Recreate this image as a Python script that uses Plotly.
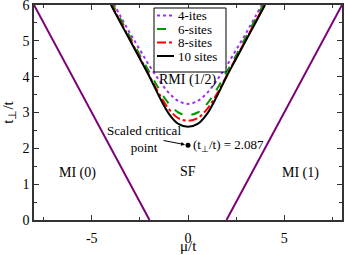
import plotly.graph_objects as go

# ---- data ----
mu_grid = [-4.0, -3.5, -3.0, -2.5, -2.0, -1.5, -1.0, -0.5, 0.0, 0.5, 1.0, 1.5, 2.0, 2.5, 3.0, 3.5, 4.0]
t_4sites = [6.18, 5.68, 5.2, 4.75, 4.3, 3.9, 3.55, 3.32, 3.24, 3.32, 3.55, 3.9, 4.3, 4.75, 5.2, 5.68, 6.18]
t_6sites = [6.1, 5.6, 5.1, 4.6, 4.12, 3.65, 3.25, 3.0, 2.93, 3.0, 3.25, 3.65, 4.12, 4.6, 5.1, 5.6, 6.1]
t_8sites = [6.03, 5.53, 5.03, 4.53, 4.02, 3.52, 3.1, 2.84, 2.77, 2.84, 3.1, 3.52, 4.02, 4.53, 5.03, 5.53, 6.03]
t_10sites = [6.0, 5.5, 5.0, 4.5, 4.0, 3.45, 2.97, 2.68, 2.6, 2.68, 2.97, 3.45, 4.0, 4.5, 5.0, 5.5, 6.0]

mi0_mu = [-8.0, -2.0]
mi0_t = [6.0, 0.0]
mi1_mu = [2.0, 8.0]
mi1_t = [0.0, 6.0]

crit_mu = [0.0]
crit_t = [2.087]

series_names = ["4-ites", "6-sites", "8-sites", "10 sites"]
series_colors = ["#a030f0", "#009a00", "#ff0000", "#000000"]
series_dash = ["dot", "dash", "dashdot", "solid"]
series_values = [t_4sites, t_6sites, t_8sites, t_10sites]

x_tickvals = [-5, 0, 5]
x_ticktext = ["-5", "0", "5"]
y_tickvals = [0, 1, 2, 3, 4, 5, 6]

FONT = "Liberation Serif"
fig = go.Figure()

fig.add_trace(go.Scatter(x=mi0_mu, y=mi0_t, mode="lines",
                         line=dict(color="#7a0078", width=2), showlegend=False))
fig.add_trace(go.Scatter(x=mi1_mu, y=mi1_t, mode="lines",
                         line=dict(color="#7a0078", width=2), showlegend=False))

for name, vals, col, dash in zip(series_names, series_values, series_colors, series_dash):
    fig.add_trace(go.Scatter(x=mu_grid, y=vals, mode="lines", name=name,
                             line=dict(color=col, width=2, dash=dash, shape="spline"),
                             showlegend=False))

fig.add_trace(go.Scatter(x=crit_mu, y=crit_t, mode="markers",
                         marker=dict(color="black", size=5), showlegend=False))

# ---- manual legend (plot area: x 34..342 px, y 5..220 px) ----
L, R, T, B = 34, 342, 5, 220
def px(x):
    return (x - L) / (R - L)
def py(y):
    return 1 - (y - T) / (B - T)

shapes = [dict(type="rect", xref="paper", yref="paper",
               x0=px(154), x1=px(226), y0=py(72), y1=py(8),
               line=dict(color="black", width=1), fillcolor="white", layer="above")]
annotations = []
rows = [15.5, 29, 42.5, 56]
for name, col, dash, yy in zip(series_names, series_colors, series_dash, rows):
    shapes.append(dict(type="line", xref="paper", yref="paper",
                       x0=px(157), x1=px(174), y0=py(yy), y1=py(yy),
                       line=dict(color=col, width=2, dash=dash), layer="above"))
    annotations.append(dict(xref="paper", yref="paper", x=px(177), y=py(yy),
                            text=name, showarrow=False, xanchor="left", yanchor="middle",
                            borderpad=0,
                            font=dict(family=FONT, size=13, color="black")))

annotations += [
    dict(x=0, y=3.9, text="RMI (1/2)", showarrow=False,
         font=dict(family=FONT, size=14, color="black")),
    dict(x=-2.28, y=2.25, text="Scaled critical<br>point", showarrow=False, align="center",
         font=dict(family=FONT, size=13, color="black")),
    dict(x=0.16, y=2.09, text="(t<sub>⊥</sub>/t) = 2.087", showarrow=False, xanchor="left",
         font=dict(family=FONT, size=13, color="black")),
    dict(x=0, y=2.087, ax=-26, ay=-5, text="", showarrow=True, arrowhead=2,
         arrowsize=0.8, arrowwidth=1, arrowcolor="black", standoff=3),
    dict(x=0, y=1.34, text="SF", showarrow=False,
         font=dict(family=FONT, size=14, color="black")),
    dict(x=-5.75, y=1.31, text="MI (0)", showarrow=False,
         font=dict(family=FONT, size=14, color="black")),
    dict(x=5.85, y=1.31, text="MI (1)", showarrow=False,
         font=dict(family=FONT, size=14, color="black")),
    # x-axis title
    dict(xref="x", yref="paper", x=0, y=py(246), text="μ/t", showarrow=False,
         yanchor="middle", font=dict(family=FONT, size=15, color="black")),
]

axis_common = dict(showline=True, linecolor="#333333", linewidth=1.5, mirror="allticks",
                   ticks="inside", ticklen=5, tickwidth=1, tickcolor="#333333",
                   showgrid=False, zeroline=False, automargin=False,
                   ticklabeloverflow="allow",
                   tickfont=dict(family=FONT, size=14, color="black"))

fig.update_layout(
    width=345, height=255,
    margin=dict(l=34, r=3, t=5, b=35),
    plot_bgcolor="white", paper_bgcolor="white",
    shapes=shapes, annotations=annotations,
    xaxis=dict(range=[-8, 8], tickvals=x_tickvals, ticktext=x_ticktext,
               ticklabelstandoff=4,
               minor=dict(dtick=2.5, tick0=0, ticks="inside", ticklen=3, tickcolor="#333333"),
               **axis_common),
    yaxis=dict(range=[0, 6], tickvals=y_tickvals,
               minor=dict(dtick=0.5, tick0=0, ticks="inside", ticklen=3, tickcolor="#333333"),
               title=dict(text="t<sub>⊥</sub>/t", font=dict(family=FONT, size=15, color="black"), standoff=6),
               **axis_common),
)

fig.write_html("out.html", config={"displayModeBar": False},
               post_script="document.body.style.margin='0';document.body.style.overflow='hidden';")
